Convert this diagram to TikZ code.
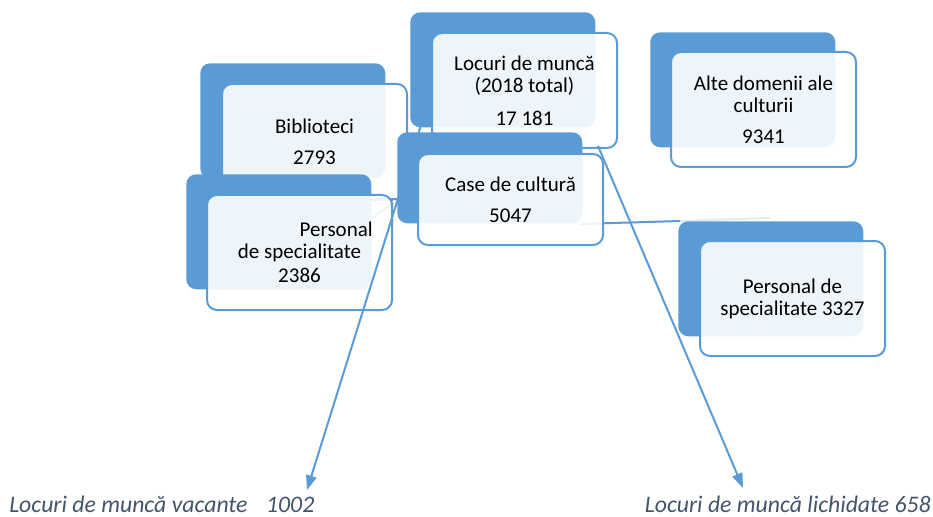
\documentclass[tikz,border=0pt]{standalone}
\usepackage{fontspec}
\setmainfont{Carlito}
\usetikzlibrary{arrows.meta}
\definecolor{boxblue}{HTML}{5B9BD5}
\definecolor{notegray}{HTML}{44546A}

\begin{document}
\begin{tikzpicture}[x=0.75pt,y=-0.75pt,
	back/.style={fill=boxblue, rounded corners=7.5pt, anchor=north west, inner sep=0pt,
		minimum width=138.75pt, minimum height=86.25pt},
	front/.style={draw=boxblue, line width=1.5pt, fill=white, fill opacity=0.9, text opacity=1,
		rounded corners=7.5pt, anchor=north west, inner sep=0pt, align=center,
		minimum width=138.75pt, minimum height=86.25pt, font=\fontsize{15.75}{16.5}\selectfont},
	link/.style={draw=boxblue, line width=1.5pt},
	arr/.style={link, -{Triangle[length=11pt,width=8pt]}},
	note/.style={text=notegray, font=\fontsize{17.8}{18}\selectfont\itshape, inner sep=0pt}]
\useasboundingbox (0,0) rectangle (933,517);

% faint links behind the boxes
\coordinate (ha) at (360,200);
\coordinate (hb) at (393,200);
\coordinate (da) at (360,227);
\coordinate (db) at (393,203);
\draw[link] (ha) -- (hb);
\draw[link] (da) -- (db);

% Biblioteci
\node[back] (bibb) at (200,63) {};
\node[front] (bibf) at (221,83) {Biblioteci\\[6.5pt]2793};

% Personal de specialitate 2386
\node[back] (persab) at (186,174) {};
\node[front] (persaf) at (206,194) {\hspace*{55pt}Personal\\de specialitate\\[1.5pt]2386};

% Locuri de munca
\node[back] (locb) at (410,12) {};
\node[front] (locf) at (431,32) {Locuri de muncă\\(2018 total)\\[8pt]17 181};

% Alte domenii
\node[back] (alteb) at (650,32) {};
\node[front] (altef) at (670,51) {Alte domenii ale\\culturii\\[7pt]9341};

% link to the right box
\coordinate (ra) at (580,224);
\coordinate (rb) at (680,221);
\coordinate (rc) at (770,218);
\draw[link] (ra) -- (rb);
\draw[link, opacity=0.2] (rb) -- (rc);

% Personal de specialitate 3327
\node[back] (persbb) at (678,221) {};
\node[front] (persbf) at (699,240) {Personal de\\specialitate 3327};

% notes at the bottom
\node[note, anchor=west] (vacant) at (9,504) {Locuri de muncă vacante\hspace{14pt}1002};
\node[note, anchor=east] (lichid) at (931,504) {Locuri de muncă lichidate 658};

\coordinate (vstart) at (421,125);
\coordinate (vtip) at (307,490);
\coordinate (lstart) at (598,146);
\coordinate (ltip) at (743,488);
\draw[arr] (vstart) -- (vtip);
\draw[arr] (lstart) -- (ltip);

% Case de cultura
\node[back, minimum height=68.25pt] (caseb) at (397,132) {};
\node[front, minimum height=68.25pt] (casef) at (417,153) {Case de cultură\\[6.5pt]5047};

\end{tikzpicture}
\end{document}
